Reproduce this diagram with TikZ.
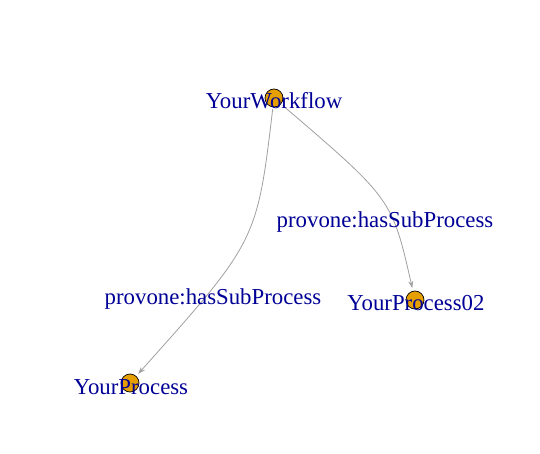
\documentclass[tikz,border=0pt]{standalone}
\usepackage{fontspec}
\setmainfont{Liberation Serif}
\usepackage{tikz}
\usetikzlibrary{arrows.meta}

\definecolor{vorange}{HTML}{E69F00}
\definecolor{labelblue}{RGB}{0,0,150}
\definecolor{edgegray}{RGB}{160,160,160}

\begin{document}
\begin{tikzpicture}[
    x=1pt, y=-1pt,
    >={Stealth[length=7pt, width=5pt]},
    vertex/.style={draw=black, circle, fill=vorange, minimum size=18pt, inner sep=0pt, line width=0.7pt},
    vlabel/.style={text=labelblue, anchor=base, inner sep=0pt, font=\fontsize{22.8}{27}\selectfont},
    elabel/.style={text=labelblue, anchor=base, inner sep=0pt, font=\fontsize{22.8}{27}\selectfont},
    edge/.style={->, draw=edgegray, line width=0.8pt, shorten >=3pt, shorten <=2pt}
]
    \useasboundingbox (0,0) rectangle (540,454);

    % Vertices
    \node[vertex] (wf) at (274,98) {};
    \node[vertex] (proc2) at (415,300) {};
    \node[vertex] (proc) at (130,383) {};

    % Edges
    \draw[edge] (wf) .. controls (257,241) .. (proc);
    \draw[edge] (wf) .. controls (392,199) .. (proc2);

    % Vertex labels
    \node[vlabel] (wflab) at (274,109) {YourWorkflow};
    \node[vlabel] (proc2lab) at (416,310) {YourProcess02};
    \node[vlabel] (proclab) at (131,394) {YourProcess};

    % Edge labels
    \node[elabel] (e1lab) at (213,304) {provone:hasSubProcess};
    \node[elabel] (e2lab) at (385,227) {provone:hasSubProcess};

\end{tikzpicture}
\end{document}
